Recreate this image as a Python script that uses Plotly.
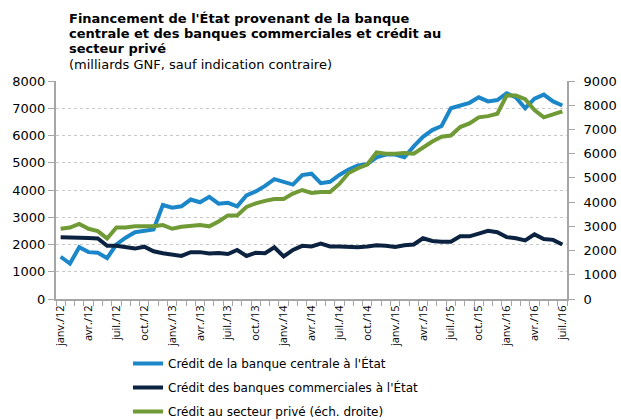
import plotly.graph_objects as go

months = ["janv.", "févr.", "mars", "avr.", "mai", "juin", "juil.", "août", "sept.", "oct.", "nov.", "déc."]
labels = [f"{m}/{y}" for y in range(12, 17) for m in months][:55]

central_bank = [1550, 1300, 1900, 1720, 1700, 1500, 2000, 2250, 2450, 2500, 2550, 3450,
                3350, 3400, 3650, 3550, 3750, 3500, 3530, 3400, 3800, 3950, 4150, 4400,
                4300, 4200, 4550, 4600, 4250, 4300, 4550, 4750, 4900, 4950, 5200, 5300,
                5300, 5200, 5600, 5950, 6200, 6350, 7000, 7100, 7200, 7400, 7250, 7300,
                7550, 7400, 7000, 7350, 7500, 7250, 7100]
commercial_banks = [2270, 2270, 2250, 2240, 2220, 1950, 1950, 1900, 1850, 1920, 1750, 1680,
                    1620, 1580, 1720, 1720, 1670, 1690, 1650, 1800, 1580, 1700, 1680, 1900,
                    1560, 1800, 1950, 1930, 2030, 1930, 1930, 1900, 1900, 1930, 1970, 1950,
                    1910, 1970, 2000, 2230, 2130, 2100, 2100, 2300, 2300, 2400, 2500, 2450,
                    2270, 2230, 2150, 2370, 2200, 2170, 2000]
private_sector = [2900, 2950, 3100, 2900, 2800, 2500, 2950, 2950, 3000, 3000, 3000, 3050,
                  2900, 2980, 3020, 3050, 3000, 3200, 3450, 3450, 3800, 3950, 4050, 4130,
                  4130, 4350, 4500, 4380, 4420, 4420, 4750, 5200, 5400, 5550, 6050, 6000,
                  6000, 6030, 6000, 6250, 6500, 6700, 6750, 7100, 7250, 7500, 7550, 7650,
                  8400, 8400, 8250, 7800, 7500, 7620, 7750]

names = ["Crédit de la banque centrale à l'État",
         "Crédit des banques commerciales à l'État",
         "Crédit au secteur privé (éch. droite)"]
colors = ["#1b87c9", "#0b2341", "#6f9a35"]

title_lines = ["Financement de l'État provenant de la banque",
               "centrale et des banques commerciales et crédit au",
               "secteur privé"]
subtitle = "(milliards GNF, sauf indication contraire)"

x = list(range(len(labels)))
fig = go.Figure()
fig.add_trace(go.Scatter(x=x, y=central_bank, name=names[0], mode="lines", legendgroup="a",
                         line=dict(color=colors[0], width=4)))
fig.add_trace(go.Scatter(x=x, y=commercial_banks, name=names[1], mode="lines", legendgroup="b",
                         line=dict(color=colors[1], width=4)))
fig.add_trace(go.Scatter(x=x, y=private_sector, name=names[2], mode="lines", yaxis="y2",
                         legendgroup="c", line=dict(color=colors[2], width=4)))

tick_idx = list(range(0, len(labels), 3))
axis_gray = "#a6a6a6"
H = 218.0


def py(pix):
    return (299 - pix) / H


annotations = []
for i, (t, ypix) in enumerate(zip(title_lines, [18, 33.5, 48.5])):
    annotations.append(dict(text=f"<b>{t}</b>", xref="paper", yref="paper",
                            x=(67 - 56) / 511, y=py(ypix), xanchor="left", yanchor="middle",
                            align="left", showarrow=False,
                            font=dict(size=13, family="DejaVu Sans")))
annotations.append(dict(text=subtitle, xref="paper", yref="paper",
                        x=(67 - 56) / 511, y=py(64.5), xanchor="left", yanchor="middle",
                        align="left", showarrow=False,
                        font=dict(size=13, family="DejaVu Sans")))

fig.update_layout(
    width=621, height=420,
    margin=dict(l=56, r=54, t=81, b=121, autoexpand=False),
    paper_bgcolor="white", plot_bgcolor="white",
    font=dict(family="DejaVu Sans", color="#000000"),
    showlegend=True,
    legend=dict(x=(128 - 56) / 511, y=py(349), xanchor="left", yanchor="top",
                font=dict(size=12, family="DejaVu Sans"), tracegroupgap=5,
                bgcolor="rgba(0,0,0,0)"),
    xaxis=dict(range=[-0.5, len(labels) - 0.5], tickmode="array",
               tickvals=tick_idx, ticktext=[labels[i] for i in tick_idx],
               tickangle=-90, tickfont=dict(size=11, family="Open Sans"),
               ticks="", showgrid=False, zeroline=False,
               showline=True, linecolor=axis_gray, linewidth=2,
               minor=dict(tick0=-0.5, dtick=1, ticks="outside", ticklen=5,
                          tickcolor=axis_gray, showgrid=False)),
    yaxis=dict(range=[0, 8000], dtick=1000, tickfont=dict(size=13),
               showgrid=True, gridcolor="#c8c8c8", griddash="dot", gridwidth=1,
               zeroline=False, showline=True, linecolor=axis_gray, linewidth=2,
               ticks="outside", ticklen=6, tickcolor=axis_gray),
    yaxis2=dict(range=[0, 9000], dtick=1000, overlaying="y", side="right",
                tickfont=dict(size=13), showgrid=False, zeroline=False,
                showline=True, linecolor=axis_gray, linewidth=2,
                ticks="outside", ticklen=6, tickcolor=axis_gray,
                ticklabelstandoff=6),
    annotations=annotations,
)

fig.write_html("out.html", config={"displayModeBar": False},
               post_script="document.body.style.margin='0';document.body.style.padding='0';")
